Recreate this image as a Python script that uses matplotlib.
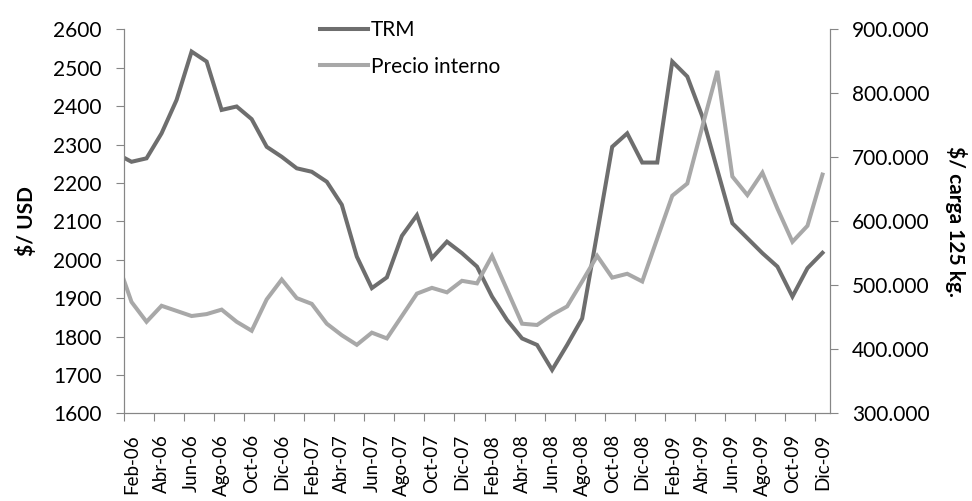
import matplotlib
matplotlib.use("Agg")
import matplotlib.pyplot as plt
import matplotlib.ticker as mticker
import numpy as np

plt.rcParams['font.family'] = ['Lato', 'DejaVu Sans']

# meses (Ene-06 queda fuera del eje, solo se ve el tramo de línea)
nombres = ['Ene', 'Feb', 'Mar', 'Abr', 'May', 'Jun', 'Jul', 'Ago', 'Sep', 'Oct', 'Nov', 'Dic']
anios = ['06', '07', '08', '09']
meses = [f"{m}-{a}" for a in anios for m in nombres]

trm = [2276, 2255, 2264, 2329, 2416, 2542, 2516, 2390, 2399, 2366, 2294, 2268,
       2238, 2229, 2203, 2143, 2008, 1926, 1954, 2062, 2116, 2004, 2047, 2017,
       1982, 1904, 1843, 1795, 1778, 1713, 1778, 1847, 2069, 2294, 2329, 2253,
       2253, 2516, 2477, 2373, 2234, 2095, 2056, 2017, 1982, 1904, 1978, 2018]

precio = [541000, 474000, 443000, 468000, 460000, 452000, 455000, 462000, 443000, 429000, 478000, 509000,
          480000, 471000, 440000, 422000, 407000, 426000, 417000, 452000, 487000, 496000, 489000, 507000,
          503000, 546000, 493000, 440000, 438000, 454000, 467000, 506000, 546000, 512000, 518000, 506000,
          573000, 640000, 659000, 748000, 835000, 670000, 641000, 676000, 620000, 568000, 593000, 673000]

x = np.arange(len(meses))
gris_eje = '#868686'
fs = 15

fig = plt.figure(figsize=(9.72, 5.01), dpi=100)
ax = fig.add_axes([124/972, 1-413.3/501, 706/972, 384/501])
ax2 = ax.twinx()

l1, = ax.plot(x, trm, color='#6e6e6e', lw=2.9, solid_joinstyle='miter', label='TRM')
l2, = ax2.plot(x, precio, color='#a8a8a8', lw=2.9, solid_joinstyle='miter', label='Precio interno')

ax.set_xlim(0.5, len(meses) - 0.5)
ax.set_ylim(1600, 2600)
ax.set_yticks(np.arange(1600, 2601, 100))
ax2.set_ylim(300000, 900000)
ax2.set_yticks(np.arange(300000, 900001, 100000))
ax2.yaxis.set_major_formatter(mticker.FuncFormatter(lambda v, p: f"{v:,.0f}".replace(',', '.')))

# marcas entre categorías, etiquetas cada dos meses
ax.set_xticks(np.arange(0.5, len(meses) - 1, 2))
ax.set_xticklabels([])
ax.set_xticks(x[1::2], minor=True)
ax.set_xticklabels(meses[1::2], minor=True, rotation=90, fontsize=13.5)
ax.tick_params(axis='x', which='minor', length=0, pad=15)
ax.tick_params(axis='x', which='major', length=6, color=gris_eje, direction='out')

ax.tick_params(axis='y', labelsize=fs, length=6, color=gris_eje, pad=10)
ax2.tick_params(axis='y', labelsize=fs, length=6, color=gris_eje, pad=10)

for a in (ax, ax2):
    for s in a.spines.values():
        s.set_color(gris_eje)
    a.spines['top'].set_visible(False)

ax.set_ylabel('$/ USD', fontsize=fs, fontweight='bold', labelpad=12)
ax2.set_ylabel('$/ carga 125 kg.', fontsize=fs, fontweight='bold', rotation=-90, labelpad=27)

fig.legend(handles=[l1, l2], loc='upper left', bbox_to_anchor=(320/972, 1-20/501),
           frameon=False, fontsize=fs, handlelength=2.3, handletextpad=0.15,
           labelspacing=0.8, borderpad=0, borderaxespad=0)

fig.savefig('out.png', dpi=100)
